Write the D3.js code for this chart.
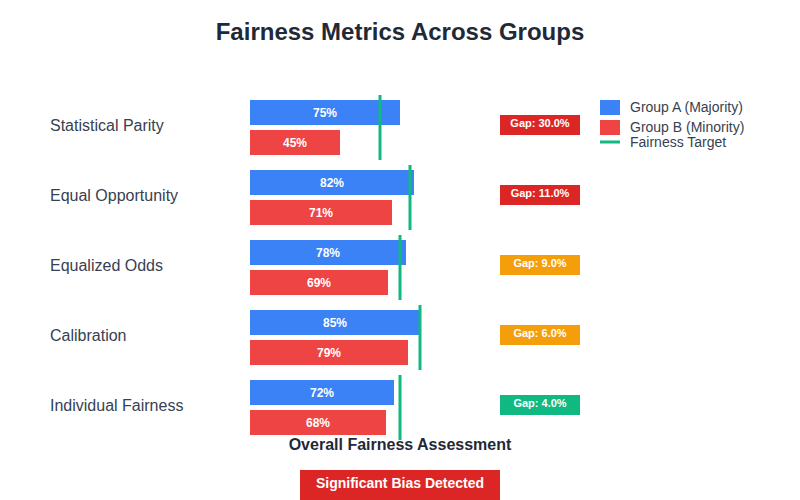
<!DOCTYPE html>
<html><head><meta charset="utf-8">
<script src="https://cdn.jsdelivr.net/npm/d3@7"></script>
<style>body{margin:0;background:#fff;font-family:Arial,"Liberation Sans",sans-serif}</style>
</head><body><svg id="c" width="800" height="500"></svg>
<script>
const metrics = ["Statistical Parity","Equal Opportunity","Equalized Odds","Calibration","Individual Fairness"];
const groupA = [75,82,78,85,72];
const groupB = [45,71,69,79,68];
const targets = [65,80,75,85,75];
const legendLabels = ["Group A (Majority)","Group B (Minority)","Fairness Target"];

const svg = d3.select("#c");
const x = d3.scaleLinear().domain([0,100]).range([250,450]);
const y = d3.scaleBand().domain(metrics).range([100,450]).paddingInner(0);
const colA="#3b82f6", colB="#ef4444", colT="#10b981";

svg.append("text").attr("x",400).attr("y",40).attr("text-anchor","middle")
  .attr("font-size",24).attr("font-weight","bold").attr("fill","#1f2937")
  .text("Fairness Metrics Across Groups");

metrics.forEach((m,i)=>{
  const top = y(m);
  const g = svg.append("g");
  g.append("text").attr("x",50).attr("y",top+31)
    .attr("font-size",16).attr("fill","#374151").text(m);
  g.append("rect").attr("x",x(0)).attr("y",top).attr("width",x(groupA[i])-x(0)).attr("height",25).attr("fill",colA);
  g.append("rect").attr("x",x(0)).attr("y",top+30).attr("width",x(groupB[i])-x(0)).attr("height",25).attr("fill",colB);
  g.append("text").attr("x",(x(0)+x(groupA[i]))/2).attr("y",top+17)
    .attr("text-anchor","middle").attr("font-size",12).attr("font-weight","bold").attr("fill","#fff").text(groupA[i]+"%");
  g.append("text").attr("x",(x(0)+x(groupB[i]))/2).attr("y",top+47)
    .attr("text-anchor","middle").attr("font-size",12).attr("font-weight","bold").attr("fill","#fff").text(groupB[i]+"%");
  g.append("line").attr("x1",x(targets[i])).attr("x2",x(targets[i])).attr("y1",top-5).attr("y2",top+60)
    .attr("stroke",colT).attr("stroke-width",3);
  const gap = Math.abs(groupA[i]-groupB[i]);
  const gc = gap>10?"#dc2626":(gap>5?"#f59e0b":"#10b981");
  g.append("rect").attr("x",500).attr("y",top+15).attr("width",80).attr("height",20).attr("fill",gc);
  g.append("text").attr("x",540).attr("y",top+26.5).attr("text-anchor","middle")
    .attr("font-size",11).attr("font-weight","bold").attr("fill","#fff").text("Gap: "+gap.toFixed(1)+"%");
});

const lg = svg.append("g");
lg.append("rect").attr("x",600).attr("y",100).attr("width",20).attr("height",15).attr("fill",colA);
lg.append("rect").attr("x",600).attr("y",120).attr("width",20).attr("height",15).attr("fill",colB);
lg.append("line").attr("x1",600).attr("x2",620).attr("y1",142).attr("y2",142).attr("stroke",colT).attr("stroke-width",3);
[112,132,147].forEach((yy,i)=>{
  lg.append("text").attr("x",630).attr("y",yy).attr("font-size",14).attr("fill","#374151").text(legendLabels[i]);
});

svg.append("text").attr("x",400).attr("y",450).attr("text-anchor","middle")
  .attr("font-size",16).attr("font-weight","bold").attr("fill","#1f2937").text("Overall Fairness Assessment");
svg.append("rect").attr("x",300).attr("y",470).attr("width",200).attr("height",30).attr("fill","#dc2626");
svg.append("text").attr("x",400).attr("y",488).attr("text-anchor","middle")
  .attr("font-size",14).attr("font-weight","bold").attr("fill","#fff").text("Significant Bias Detected");
</script></body></html>
